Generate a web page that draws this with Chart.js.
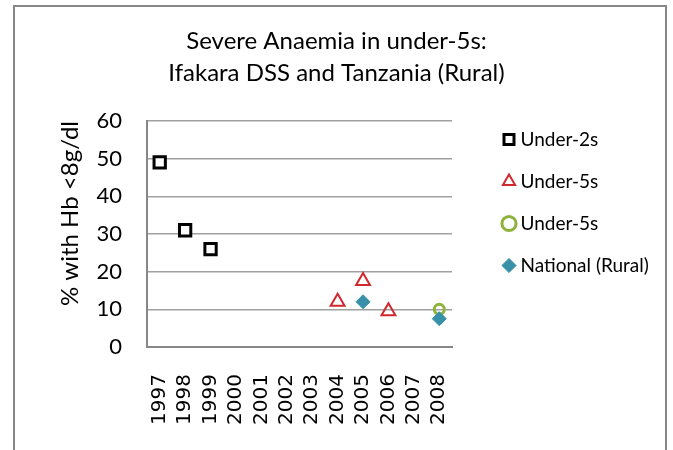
<!DOCTYPE html>
<html>
<head>
<meta charset="utf-8">
<script src="https://cdn.jsdelivr.net/npm/chart.js@4.4.1/dist/chart.umd.min.js"></script>
<style>
  body { margin: 0; background: #fff; }
  #frame { position: absolute; left: 13px; top: 5px; width: 650px; height: 500px; border: 2px solid #878787; }
  #myChart { position: absolute; left: 0; top: 0; }
</style>
</head>
<body>
<div id="frame"></div>
<canvas id="myChart" width="673" height="450"></canvas>
<script>
// data
const years = ['1997', '1998', '1999', '2000', '2001', '2002', '2003', '2004', '2005', '2006', '2007', '2008'];
const under2s = [49, 31, 26, null, null, null, null, null, null, null, null, null];
const under5sDss = [null, null, null, null, null, null, null, 12, 17.5, 9.5, null, null];
const under5sOther = [null, null, null, null, null, null, null, null, null, null, null, 10];
const nationalRural = [null, null, null, null, null, null, null, null, 12, null, null, 7.5];
const yTicks = [0, 10, 20, 30, 40, 50, 60];

const chartTitle = ['Severe Anaemia in under-5s:', 'Ifakara DSS and Tanzania (Rural)'];
const yTitle = '% with Hb <8g/dl';

// keep legend box and plot box where the picture has them
const layoutFix = {
    id: 'layoutFix',
    afterInit(chart) {
        const fit = chart.legend.fit;
        chart.legend.fit = function () {
            fit.call(this);
            this.width = 221;
        };
    },
    afterLayout(chart) {
        chart.legend.left = 484;
        chart.legend.top = 107;
    }
};

const ctx = document.getElementById('myChart').getContext('2d');
const chart = new Chart(ctx, {
    type: 'line',
    data: {
        labels: years,
        datasets: [{
            label: 'Under-2s',
            data: under2s,
            pointStyle: 'rect',
            pointRadius: 8,
            borderColor: '#000000',
            backgroundColor: '#ffffff',
            borderWidth: 3,
            order: 1
        }, {
            label: 'Under-5s',
            data: under5sDss,
            pointStyle: 'triangle',
            pointRadius: 8,
            borderColor: '#d0282e',
            backgroundColor: 'rgba(255,255,255,0)',
            borderWidth: 2,
            order: 1
        }, {
            label: 'Under-5s',
            data: under5sOther,
            pointStyle: 'circle',
            pointRadius: 5,
            borderColor: '#8db33a',
            backgroundColor: 'rgba(255,255,255,0)',
            borderWidth: 3,
            order: 1
        }, {
            label: 'National (Rural)',
            data: nationalRural,
            pointStyle: 'rectRot',
            pointRadius: 7,
            borderColor: '#3891a8',
            backgroundColor: '#3891a8',
            borderWidth: 1,
            order: 0
        }]
    },
    options: {
        responsive: false,
        animation: false,
        showLine: false,
        layout: { padding: 0 },
        plugins: {
            title: {
                display: true,
                text: chartTitle,
                color: '#000',
                font: { family: 'Lato', size: 24, weight: 'normal', lineHeight: 1.333 },
                padding: { top: 25, bottom: 32 }
            },
            legend: {
                position: 'right',
                align: 'start',
                labels: {
                    usePointStyle: true,
                    boxWidth: 4,
                    boxHeight: 10,
                    padding: 23,
                    color: '#000',
                    font: { family: 'Lato', size: 19 },
                    sort: (a, b) => a.datasetIndex - b.datasetIndex
                }
            },
            tooltip: { enabled: false }
        },
        scales: {
            x: {
                offset: true,
                grid: { display: false, drawTicks: false },
                border: { display: true, color: '#878787', width: 2 },
                ticks: {
                    color: '#000',
                    font: { family: 'DejaVu Sans', size: 20 },
                    minRotation: 90,
                    maxRotation: 90,
                    padding: 27,
                    autoSkip: false
                },
                afterFit(scale) { scale.height = 103; }
            },
            y: {
                min: 0,
                max: 60,
                afterBuildTicks(scale) { scale.ticks = yTicks.map(v => ({ value: v })); },
                grid: { color: '#a0a0a0', lineWidth: 1.5, drawTicks: false },
                border: { display: true, color: '#878787', width: 2 },
                ticks: {
                    color: '#000',
                    font: { family: 'Lato', size: 22 },
                    padding: 25
                },
                title: {
                    display: true,
                    text: yTitle,
                    align: 'end',
                    color: '#000',
                    font: { family: 'Lato', size: 24 },
                    padding: { top: 56, bottom: 0 }
                },
                afterFit(scale) { scale.width = 147; }
            }
        }
    },
    plugins: [layoutFix]
});
</script>
</body>
</html>
